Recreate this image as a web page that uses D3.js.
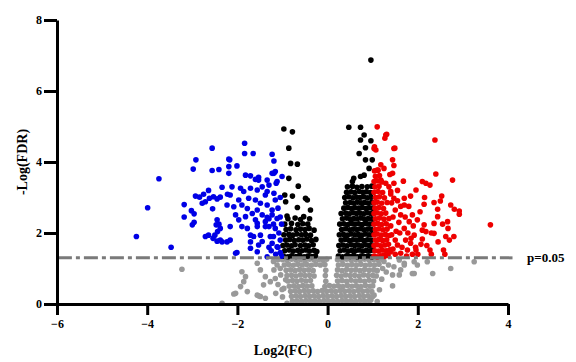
<!DOCTYPE html>
<html>
<head>
<meta charset="utf-8">
<script src="https://cdn.jsdelivr.net/npm/d3@7"></script>
<style>
  body { margin: 0; background: #fff; }
  svg text { font-family: "Liberation Serif", "Times New Roman", serif; font-weight: bold; }
</style>
</head>
<body>
<svg width="576" height="362"></svg>
<script>
// values: [log2FC, -log FDR]
var xTicks = [-6, -4, -2, 0, 2, 4];
var yTicks = [0, 2, 4, 6, 8];
var pCut = 1.3;

var downPts = [
  [-2.56,4.39],[-2.92,4.06],[-2.98,3.80],[-2.56,3.76],[-2.41,3.79],[-3.74,3.53],[-3.99,2.71],[-4.24,1.90],[-3.47,1.60],
  [-3.18,2.80],[-3.18,2.45],[-3.02,2.63],[-2.96,2.54],[-2.96,2.30],[-3.0,2.23],[-2.93,3.04],[-2.84,3.01],[-2.75,3.09],
  [-2.64,3.20],[-2.62,2.98],[-2.53,3.02],[-2.45,2.96],[-2.38,3.01],[-2.78,2.84],[-2.71,2.88],[-2.55,2.68],[-2.45,2.37],
  [-2.47,2.23],[-2.41,2.25],[-2.38,2.13],[-2.44,2.04],[-2.50,1.94],[-2.64,1.94],[-2.71,1.90],[-2.54,1.85],[-2.45,1.77],
  [-2.34,1.75],[-2.23,1.75],[-2.34,3.29],[-2.22,3.09],[-1.84,4.53],[-1.84,4.24],[-1.65,4.24],[-1.23,4.22],[-1.19,4.03],
  [-2.19,4.08],[-2.19,3.87],[-2.01,3.89],[-2.19,3.68],[-1.82,3.63],[-1.71,3.61],[-1.60,3.51],[-1.53,3.57],[-1.34,3.49],
  [-1.23,3.68],[-1.16,3.73],[-1.30,3.35],[-1.12,3.45],[-1.01,3.59],[-2.12,3.30],[-1.93,3.26],[-1.86,3.17],[-1.71,3.26],
  [-1.56,3.21],[-1.45,3.30],[-2.16,3.07],[-1.97,2.93],[-1.75,2.98],[-1.60,2.93],[-1.38,3.07],[-1.19,3.12],[-1.16,2.93],
  [-2.23,2.79],[-2.08,2.74],[-1.90,2.79],[-1.49,2.84],[-1.34,2.79],[-1.78,2.69],[-1.56,2.65],[-2.04,2.51],[-1.82,2.46],
  [-1.67,2.55],[-1.45,2.51],[-1.23,2.51],[-1.12,2.41],[-1.97,2.37],[-1.60,2.37],[-1.38,2.32],[-2.16,2.18],[-1.90,2.18],
  [-1.56,2.18],[-1.30,2.18],[-1.16,2.13],[-1.71,1.94],[-1.49,1.94],[-1.27,1.90],[-2.16,1.80],[-1.71,1.75],[-1.53,1.66],
  [-1.23,1.71],[-1.12,1.61],[-1.71,1.57],[-2.04,1.43],[-1.34,1.33],[-1.56,1.47],[-1.05,1.45],[-1.10,1.60],[-1.05,1.80],
  [-1.08,2.00],[-1.02,2.25],[-1.10,2.70],[-1.05,3.00],[-1.15,1.40],[-1.20,1.90],[-1.25,1.50],[-1.30,2.40],[-1.05,2.45],
  [-1.02,1.35],[-1.20,2.25],[-2.17,4.06],[-2.38,1.80],[-2.01,1.45],[-1.30,1.60],[-1.45,1.76],[-1.64,1.90],[-1.78,2.13],
  [-1.56,2.27],[-1.38,2.18],[-1.34,2.44],[-1.23,2.65],[-1.34,3.17],[-1.53,3.49],[-1.19,3.68],[-1.14,3.40]
];

var upPts = [
  [1.10,4.99],[1.31,4.78],[1.27,4.67],[1.04,4.43],[1.07,4.34],[1.49,4.39],[2.38,4.62],[1.44,4.06],[1.47,3.90],[1.18,3.92],
  [1.25,3.82],[1.44,3.68],[1.10,3.77],[2.40,3.66],[1.68,3.46],[1.18,3.49],[1.29,3.40],[2.10,3.45],[2.18,3.40],[2.27,3.35],
  [2.77,3.49],[1.96,3.21],[1.84,3.04],[1.70,2.98],[2.53,3.04],[1.40,3.17],[1.47,2.98],[1.55,2.91],[2.14,2.81],[2.36,2.86],
  [2.73,2.79],[1.70,2.79],[2.44,2.67],[2.81,2.67],[2.92,2.62],[2.92,2.53],[1.62,2.51],[1.88,2.51],[2.44,2.46],[2.66,2.32],
  [1.81,2.32],[1.99,2.37],[2.14,2.23],[2.36,2.27],[2.10,2.08],[2.18,2.04],[2.67,2.13],[3.61,2.23],[1.70,2.13],[1.92,1.94],
  [2.10,1.83],[2.36,1.99],[2.62,1.90],[2.70,1.80],[1.73,1.80],[1.84,1.71],[2.07,1.68],[1.55,1.66],[1.77,1.52],[2.27,1.52],
  [2.57,1.52],[1.96,1.52],[1.40,1.47],[1.62,1.43],[1.25,1.38],[1.29,4.76],[1.47,4.38],[1.03,4.38],
  [1.45,1.55],[1.50,1.80],[1.52,2.05],[1.58,2.30],[1.45,2.45],[1.50,2.65],[1.60,2.00],[1.65,1.60],[1.72,2.45],[1.78,2.00],
  [1.85,1.85],[1.90,2.20],[1.95,1.60],[1.75,1.35],[1.88,1.40],[2.00,1.40],[1.42,2.85],[1.55,3.20],[1.62,2.75],[1.80,2.75],
  [1.47,3.40],[2.05,2.60],[2.20,1.65],[2.30,2.00],[2.45,1.75],[2.55,2.25],[2.50,2.90],[2.15,3.00],[2.60,1.40],[2.80,1.90],
  [2.30,1.40],[1.50,1.40],[1.42,1.95],[1.40,2.20],[1.40,3.10],[1.38,3.65],[1.36,3.30],
  // dense strip just right of log2FC = 1
  [1.03,1.35],[1.10,1.33],[1.18,1.36],[1.26,1.34],[1.34,1.37],[1.05,1.50],[1.13,1.49],[1.21,1.52],[1.30,1.50],[1.38,1.53],
  [1.03,1.65],[1.10,1.67],[1.18,1.64],[1.27,1.66],[1.35,1.68],[1.06,1.80],[1.14,1.82],[1.22,1.79],[1.31,1.81],
  [1.03,1.95],[1.10,1.97],[1.19,1.94],[1.28,1.96],[1.37,1.93],[1.06,2.10],[1.14,2.12],[1.23,2.09],[1.32,2.11],
  [1.03,2.25],[1.11,2.27],[1.20,2.24],[1.30,2.26],[1.06,2.40],[1.15,2.42],[1.25,2.39],[1.36,2.41],
  [1.03,2.55],[1.10,2.57],[1.19,2.54],[1.29,2.56],[1.05,2.70],[1.14,2.72],[1.24,2.69],
  [1.03,2.85],[1.10,2.87],[1.20,2.84],[1.32,2.86],[1.06,3.00],[1.15,3.02],[1.26,2.99],
  [1.03,3.15],[1.12,3.17],[1.22,3.14],[1.05,3.30],[1.14,3.32],[1.03,3.45],[1.10,3.47],[1.20,3.44],
  [1.06,3.60],[1.15,3.62],[1.04,3.75],[1.12,3.77]
];

var sigSmall = [
  [-0.97,4.93],[-0.78,4.85],[-0.86,4.39],[-0.82,3.96],[-0.67,3.94],[-0.86,3.54],[-0.65,3.32],[-0.95,3.07],[-0.78,3.04],
  [-0.49,2.98],[-0.45,2.93],[-0.93,2.88],[-0.67,2.72],[-0.38,2.65],[-0.90,2.48],[-0.53,2.46],
  [0.96,6.87],[0.47,4.98],[0.73,4.98],[0.81,4.76],[0.73,4.62],[0.96,4.60],[0.84,4.40],[0.70,4.24],[0.84,4.06],[0.99,4.06],
  [0.92,3.82],[0.81,3.63],[0.73,3.59],[0.58,3.54],[0.55,3.45],
  // left block
  [-0.98,1.35],[-0.88,1.33],[-0.80,1.36],[-0.70,1.34],[-0.62,1.37],[-0.52,1.33],[-0.44,1.35],[-0.35,1.34],[-0.27,1.36],
  [-0.95,1.50],[-0.85,1.52],[-0.76,1.49],[-0.66,1.51],[-0.57,1.50],[-0.48,1.52],[-0.40,1.49],[-0.30,1.51],[-0.24,1.48],
  [-0.99,1.65],[-0.90,1.66],[-0.80,1.64],[-0.72,1.67],[-0.60,1.65],[-0.50,1.66],[-0.42,1.64],[-0.32,1.67],
  [-0.93,1.80],[-0.84,1.82],[-0.74,1.79],[-0.64,1.81],[-0.55,1.80],[-0.46,1.83],[-0.36,1.79],[-0.26,1.82],
  [-0.97,1.95],[-0.86,1.96],[-0.77,1.94],[-0.68,1.97],[-0.58,1.95],[-0.49,1.96],[-0.38,1.94],
  [-0.92,2.10],[-0.82,2.12],[-0.70,2.09],[-0.60,2.11],[-0.50,2.10],[-0.41,2.13],[-0.30,2.08],
  [-0.95,2.25],[-0.80,2.27],[-0.66,2.24],[-0.55,2.26],[-0.44,2.25],[-0.88,2.40],[-0.72,2.42],[-0.60,2.38],[-0.40,2.40],
  // right block
  [0.24,1.35],[0.33,1.33],[0.42,1.36],[0.50,1.34],[0.58,1.37],[0.66,1.33],[0.74,1.35],[0.82,1.34],[0.90,1.36],[0.98,1.33],
  [0.28,1.50],[0.37,1.52],[0.46,1.49],[0.54,1.51],[0.62,1.50],[0.70,1.52],[0.78,1.49],[0.86,1.51],[0.94,1.50],[1.00,1.52],
  [0.25,1.65],[0.34,1.66],[0.43,1.64],[0.52,1.67],[0.60,1.65],[0.68,1.66],[0.76,1.64],[0.84,1.67],[0.92,1.65],[0.99,1.66],
  [0.30,1.80],[0.39,1.82],[0.48,1.79],[0.56,1.81],[0.64,1.80],[0.72,1.82],[0.80,1.79],[0.88,1.81],[0.96,1.80],
  [0.26,1.95],[0.35,1.96],[0.44,1.94],[0.52,1.97],[0.60,1.95],[0.68,1.96],[0.76,1.94],[0.84,1.97],[0.92,1.95],[1.00,1.96],
  [0.31,2.10],[0.40,2.12],[0.49,2.09],[0.57,2.11],[0.65,2.10],[0.73,2.12],[0.81,2.09],[0.89,2.11],[0.97,2.10],
  [0.27,2.25],[0.36,2.26],[0.45,2.24],[0.53,2.27],[0.61,2.25],[0.69,2.26],[0.77,2.24],[0.85,2.27],[0.93,2.25],[1.00,2.26],
  [0.33,2.40],[0.42,2.42],[0.50,2.39],[0.58,2.41],[0.66,2.40],[0.74,2.42],[0.82,2.39],[0.90,2.41],[0.98,2.40],
  [0.30,2.55],[0.40,2.56],[0.48,2.54],[0.56,2.57],[0.64,2.55],[0.72,2.56],[0.80,2.54],[0.88,2.57],[0.96,2.55],
  [0.36,2.70],[0.45,2.72],[0.53,2.69],[0.61,2.71],[0.69,2.70],[0.77,2.72],[0.85,2.69],[0.93,2.71],[1.00,2.70],
  [0.40,2.85],[0.50,2.86],[0.58,2.84],[0.66,2.87],[0.74,2.85],[0.82,2.86],[0.90,2.84],[0.98,2.87],
  [0.38,3.00],[0.47,3.02],[0.56,2.99],[0.64,3.01],[0.72,3.00],[0.80,3.02],[0.88,2.99],[0.96,3.01],
  [0.42,3.15],[0.52,3.16],[0.60,3.14],[0.70,3.17],[0.78,3.15],[0.86,3.16],[0.95,3.14],
  [0.44,3.30],[0.55,3.32],[0.65,3.29],[0.76,3.31],[0.88,3.30],[0.98,3.32]
];

var nonSig = [
  [-3.23,0.98],[-1.90,0.91],[-1.82,0.77],[-1.86,0.63],[-1.93,0.49],[-1.78,0.35],[-2.04,0.30],[-1.56,0.25],[-1.38,0.16],
  [-1.49,0.21],[-1.56,1.15],[-1.49,0.96],[-1.38,0.77],[-1.42,0.54],[-1.27,0.63],[-1.16,0.72],[-1.04,0.82],[-0.93,0.68],
  [-0.97,0.44],[-1.19,0.96],[-1.12,1.10],[-2.34,0.02],[-2.08,0.28],[-1.53,0.23],[-1.01,0.41],[-0.90,0.02],
  [-1.10,1.25],[-1.20,1.20],[-1.05,1.00],[-1.10,0.55],[-1.00,0.20],[-1.15,0.30],
  [1.44,0.51],[1.10,0.07],[0.96,0.11],[1.03,0.25],[1.44,0.82],[1.62,0.96],[1.92,1.19],[2.21,1.19],[2.33,0.86],[2.73,1.00],
  [1.92,0.86],[1.70,1.15],[3.25,1.19],[1.59,1.24],[1.47,1.05],[1.70,1.10],[1.88,0.86],[1.59,0.82],[1.99,1.10],
  [1.25,1.20],[1.35,1.10],[1.30,0.90],[1.20,0.70],[1.15,0.40],[1.22,1.00],
  // dense cloud around zero
  [-1.00,1.25],[-0.90,1.23],[-0.80,1.26],[-0.70,1.24],[-0.60,1.25],[-0.50,1.22],[-0.40,1.26],[-0.30,1.24],[-0.20,1.25],
  [-0.10,1.23],[-0.02,1.26],[0.22,1.25],[0.32,1.23],[0.42,1.26],[0.52,1.24],[0.62,1.25],[0.72,1.23],[0.82,1.26],[0.92,1.24],
  [1.02,1.25],[1.12,1.23],[1.20,1.26],
  [-0.96,1.10],[-0.86,1.11],[-0.76,1.09],[-0.66,1.12],[-0.56,1.10],[-0.46,1.11],[-0.36,1.09],[-0.26,1.12],[-0.16,1.10],
  [-0.06,1.11],[0.24,1.10],[0.34,1.12],[0.44,1.09],[0.54,1.11],[0.64,1.10],[0.74,1.12],[0.84,1.09],[0.94,1.11],[1.04,1.10],
  [1.14,1.12],
  [-0.92,0.95],[-0.82,0.96],[-0.72,0.94],[-0.62,0.97],[-0.52,0.95],[-0.42,0.96],[-0.32,0.94],[-0.04,0.95],[0.22,0.96],
  [0.32,0.94],[0.42,0.97],[0.52,0.95],[0.62,0.96],[0.72,0.94],[0.82,0.97],[0.92,0.95],[1.02,0.96],[1.10,0.94],
  [-0.90,0.80],[-0.80,0.81],[-0.70,0.79],[-0.60,0.82],[-0.50,0.80],[-0.40,0.81],[-0.30,0.79],[-0.05,0.80],[0.20,0.81],
  [0.30,0.79],[0.40,0.82],[0.50,0.80],[0.60,0.81],[0.70,0.79],[0.80,0.82],[0.90,0.80],[1.00,0.81],[1.08,0.79],
  [-0.88,0.65],[-0.78,0.66],[-0.68,0.64],[-0.58,0.67],[-0.48,0.65],[-0.38,0.66],[-0.04,0.64],[0.22,0.65],[0.32,0.66],
  [0.42,0.64],[0.52,0.67],[0.62,0.65],[0.72,0.66],[0.82,0.64],[0.92,0.67],[1.02,0.65],
  [-0.85,0.50],[-0.75,0.51],[-0.65,0.49],[-0.55,0.52],[-0.45,0.50],[-0.35,0.51],[-0.06,0.49],[0.04,0.52],[0.14,0.50],
  [0.24,0.51],[0.34,0.49],[0.44,0.52],[0.54,0.50],[0.64,0.51],[0.74,0.49],[0.84,0.52],[0.94,0.50],[1.00,0.51],
  [-0.82,0.36],[-0.72,0.37],[-0.62,0.35],[-0.52,0.38],[-0.42,0.36],[-0.32,0.37],[-0.22,0.35],[-0.12,0.38],[-0.02,0.36],
  [0.08,0.37],[0.18,0.35],[0.28,0.38],[0.38,0.36],[0.48,0.37],[0.58,0.35],[0.68,0.38],[0.78,0.36],[0.88,0.37],[0.98,0.35],
  [-0.80,0.22],[-0.70,0.23],[-0.60,0.21],[-0.50,0.24],[-0.40,0.22],[-0.30,0.23],[-0.20,0.21],[-0.10,0.24],[0.00,0.22],
  [0.10,0.23],[0.20,0.21],[0.30,0.24],[0.40,0.22],[0.50,0.23],[0.60,0.21],[0.70,0.24],[0.80,0.22],[0.90,0.23],[1.00,0.21],
  [-0.78,0.08],[-0.68,0.09],[-0.58,0.07],[-0.48,0.10],[-0.38,0.08],[-0.28,0.09],[-0.18,0.07],[-0.08,0.10],[0.02,0.08],
  [0.12,0.09],[0.22,0.07],[0.32,0.10],[0.42,0.08],[0.52,0.09],[0.62,0.07],[0.72,0.10],[0.82,0.08],[0.92,0.09]
];

var svg = d3.select("svg");

var x = d3.scaleLinear().domain([-6, 4]).range([57, 508]);
var y = d3.scaleLinear().domain([0, 8]).range([304, 20]);

function dots(data, color) {
  svg.append("g").selectAll("circle")
    .data(data)
    .enter().append("circle")
    .attr("cx", function(d) { return x(d[0]); })
    .attr("cy", function(d) { return y(d[1]); })
    .attr("r", 2.8)
    .attr("fill", color);
}

dots(nonSig, "#999999");
dots(sigSmall, "#000000");
dots(downPts, "#0000e6");
dots(upPts, "#ee0000");

// threshold line
svg.append("line")
  .attr("x1", x(-5.98)).attr("x2", x(4.1))
  .attr("y1", y(pCut)).attr("y2", y(pCut))
  .attr("stroke", "#7a7a7a")
  .attr("stroke-width", 3)
  .attr("stroke-dasharray", "14,4,4,4");

svg.append("text")
  .attr("x", 527).attr("y", y(pCut) + 4)
  .attr("font-size", 13)
  .text("p=0.05");

// axes
var xAxis = svg.append("g")
  .attr("transform", "translate(0," + y(0) + ")")
  .call(d3.axisBottom(x).tickValues(xTicks).tickSize(11).tickSizeOuter(0).tickPadding(4));

var yAxis = svg.append("g")
  .attr("transform", "translate(" + x(-6) + ",0)")
  .call(d3.axisLeft(y).tickValues(yTicks).tickSize(13).tickSizeOuter(0).tickPadding(2));

[xAxis, yAxis].forEach(function(g) {
  g.select(".domain").attr("stroke", "#000").attr("stroke-width", 3);
  g.selectAll(".tick line").attr("stroke", "#000").attr("stroke-width", 3);
  g.selectAll(".tick text")
    .attr("fill", "#000")
    .style("font-family", "'Liberation Serif', 'Times New Roman', serif")
    .style("font-weight", "bold")
    .style("font-size", "12px");
});

svg.append("text")
  .attr("x", 283).attr("y", 355)
  .attr("text-anchor", "middle")
  .attr("font-size", 14)
  .text("Log2(FC)");

svg.append("text")
  .attr("transform", "translate(27,162) rotate(-90)")
  .attr("text-anchor", "middle")
  .attr("font-size", 14)
  .text("-Log(FDR)");
</script>
</body>
</html>
